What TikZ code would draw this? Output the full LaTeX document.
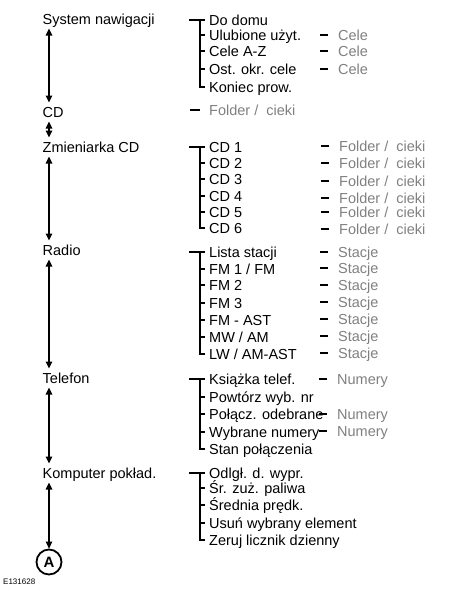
\documentclass[tikz,border=0pt]{standalone}
\usepackage{fontspec}
\setmainfont{Liberation Sans}
\usetikzlibrary{arrows.meta}
\definecolor{softgray}{RGB}{128, 128, 128}

\begin{document}
\begin{tikzpicture}[
   x=1pt, y=-1pt,
   menu/.style={anchor=west, inner sep=1.5pt, text height=13pt, text depth=2.6pt,
                font=\fontsize{14.5}{17}\selectfont},
   item/.style={menu, inner xsep=0pt},
   leaf/.style={item, text=softgray},
   link/.style={<->, >={Triangle[length=7pt, width=6.5pt]}, line width=1.2},
   tick/.style={line width=1.1},
   ringmark/.style={circle, draw, line width=1.8, minimum size=25, inner sep=0,
                    font=\fontsize{15}{15}\selectfont\bfseries}
  ]

  \useasboundingbox (0, 0) rectangle (475, 597);

  % Column positions
  \pgfmathsetmacro{\mx}{41}
  \pgfmathsetmacro{\ix}{209}
  \pgfmathsetmacro{\lx}{338}

  % Main menu
  \node (nav)   at (\mx, 19)  [menu] {System nawigacji};
  \node (cd)    at (\mx, 112) [menu] {CD};
  \node (chg)   at (\mx, 147) [menu] {Zmieniarka CD};
  \node (radio) at (\mx, 250) [menu] {Radio};
  \node (tel)   at (\mx, 378) [menu] {Telefon};
  \node (comp)  at (\mx, 473) [menu] {Komputer pokład.};
  \node (A)     at (49, 562)  [ringmark] {A};
  \node (code)  at (3, 582)   [anchor=west, inner sep=0, font=\fontsize{8}{9}\selectfont] {E131628};

  \foreach \B/\E in {nav/cd, cd/chg, chg/radio, radio/tel, tel/comp, comp/A} {
    \draw[link] (\B.south -| A) -- (\E.north -| A);
  }

  % Navigation
  \node (nav1) at (\ix, 20) [item] {Do domu};
  \node (nav2) at (\ix, 35) [item] {Ulubione użyt.};
  \node (nav3) at (\ix, 51) [item] {Cele A-Z};
  \node (nav4) at (\ix, 69) [item] {Ost. okr. cele};
  \node (nav5) at (\ix, 87) [item] {Koniec prow.};
  \node (nav2f) at (\lx, 35) [leaf] {Cele};
  \node (nav3f) at (\lx, 51) [leaf] {Cele};
  \node (nav4f) at (\lx, 69) [leaf] {Cele};

  % CD
  \node (cdf) at (\ix, 110) [leaf] {Folder /~~cieki};

  % CD changer
  \node (chg1) at (\ix, 147) [item] {CD 1};
  \node (chg2) at (\ix, 163) [item] {CD 2};
  \node (chg3) at (\ix, 179) [item] {CD 3};
  \node (chg4) at (\ix, 196) [item] {CD 4};
  \node (chg5) at (\ix, 212) [item] {CD 5};
  \node (chg6) at (\ix, 228) [item] {CD 6};
  \node (chg1f) at (\lx+1, 146) [leaf] {Folder /~~cieki};
  \node (chg2f) at (\lx+1, 163) [leaf] {Folder /~~cieki};
  \node (chg3f) at (\lx+1, 181) [leaf] {Folder /~~cieki};
  \node (chg4f) at (\lx+1, 198) [leaf] {Folder /~~cieki};
  \node (chg5f) at (\lx+1, 212) [leaf] {Folder /~~cieki};
  \node (chg6f) at (\lx+1, 229) [leaf] {Folder /~~cieki};

  % Radio
  \node (radio1) at (\ix, 252) [item] {Lista stacji};
  \node (radio2) at (\ix, 269) [item] {FM 1 / FM};
  \node (radio3) at (\ix, 285) [item] {FM 2};
  \node (radio4) at (\ix, 303) [item] {FM 3};
  \node (radio5) at (\ix, 320) [item] {FM - AST};
  \node (radio6) at (\ix, 337) [item] {MW / AM};
  \node (radio7) at (\ix, 354) [item] {LW / AM-AST};
  \node (radio1f) at (\lx, 252) [leaf] {Stacje};
  \node (radio2f) at (\lx, 268) [leaf] {Stacje};
  \node (radio3f) at (\lx, 285) [leaf] {Stacje};
  \node (radio4f) at (\lx, 302) [leaf] {Stacje};
  \node (radio5f) at (\lx, 319) [leaf] {Stacje};
  \node (radio6f) at (\lx, 336) [leaf] {Stacje};
  \node (radio7f) at (\lx, 353) [leaf] {Stacje};

  % Phone
  \node (tel1) at (\ix, 379) [item] {Książka telef.};
  \node (tel2) at (\ix, 397) [item] {Powtórz wyb. nr};
  \node (tel3) at (\ix, 414) [item] {Połącz. odebrane};
  \node (tel4) at (\ix, 432) [item] {Wybrane numery};
  \node (tel5) at (\ix, 449) [item] {Stan połączenia};
  \node (tel1f) at (\lx-1, 379) [leaf] {Numery};
  \node (tel3f) at (\lx-1, 414) [leaf] {Numery};
  \node (tel4f) at (\lx-1, 431) [leaf] {Numery};

  % Trip computer
  \node (comp1) at (\ix, 473) [item] {Odlgł. d. wypr.};
  \node (comp2) at (\ix, 488) [item] {Śr. zuż. paliwa};
  \node (comp3) at (\ix, 505) [item] {Średnia prędk.};
  \node (comp4) at (\ix, 523) [item] {Usuń wybrany element};
  \node (comp5) at (\ix, 540) [item] {Zeruj licznik dzienny};

  % Brackets
  \foreach \grp/\n in {nav/5, chg/6, radio/7, tel/5, comp/5} {
    \draw[tick] ([xshift=-20]\grp1.west) -- ([xshift=-4]\grp1.west);
    \draw[tick] ([xshift=-9]\grp1.west) |- ([xshift=-4]\grp\n.west);
    \foreach \i in {2,...,\n} {
      \draw[tick] ([xshift=-9]\grp\i.west) -- ([xshift=-4]\grp\i.west);
    }
  }

  % Dashes
  \draw[tick] ([xshift=-19]cdf.west) -- ([xshift=-9]cdf.west);
  \foreach \L in {nav2f, nav3f, nav4f, chg1f, chg2f, chg3f, chg4f, chg5f, chg6f,
                  radio1f, radio2f, radio3f, radio4f, radio5f, radio6f, radio7f,
                  tel1f, tel3f, tel4f} {
    \draw[tick] ([xshift=-18]\L.west) -- ([xshift=-10]\L.west);
  }

\end{tikzpicture}
\end{document}
